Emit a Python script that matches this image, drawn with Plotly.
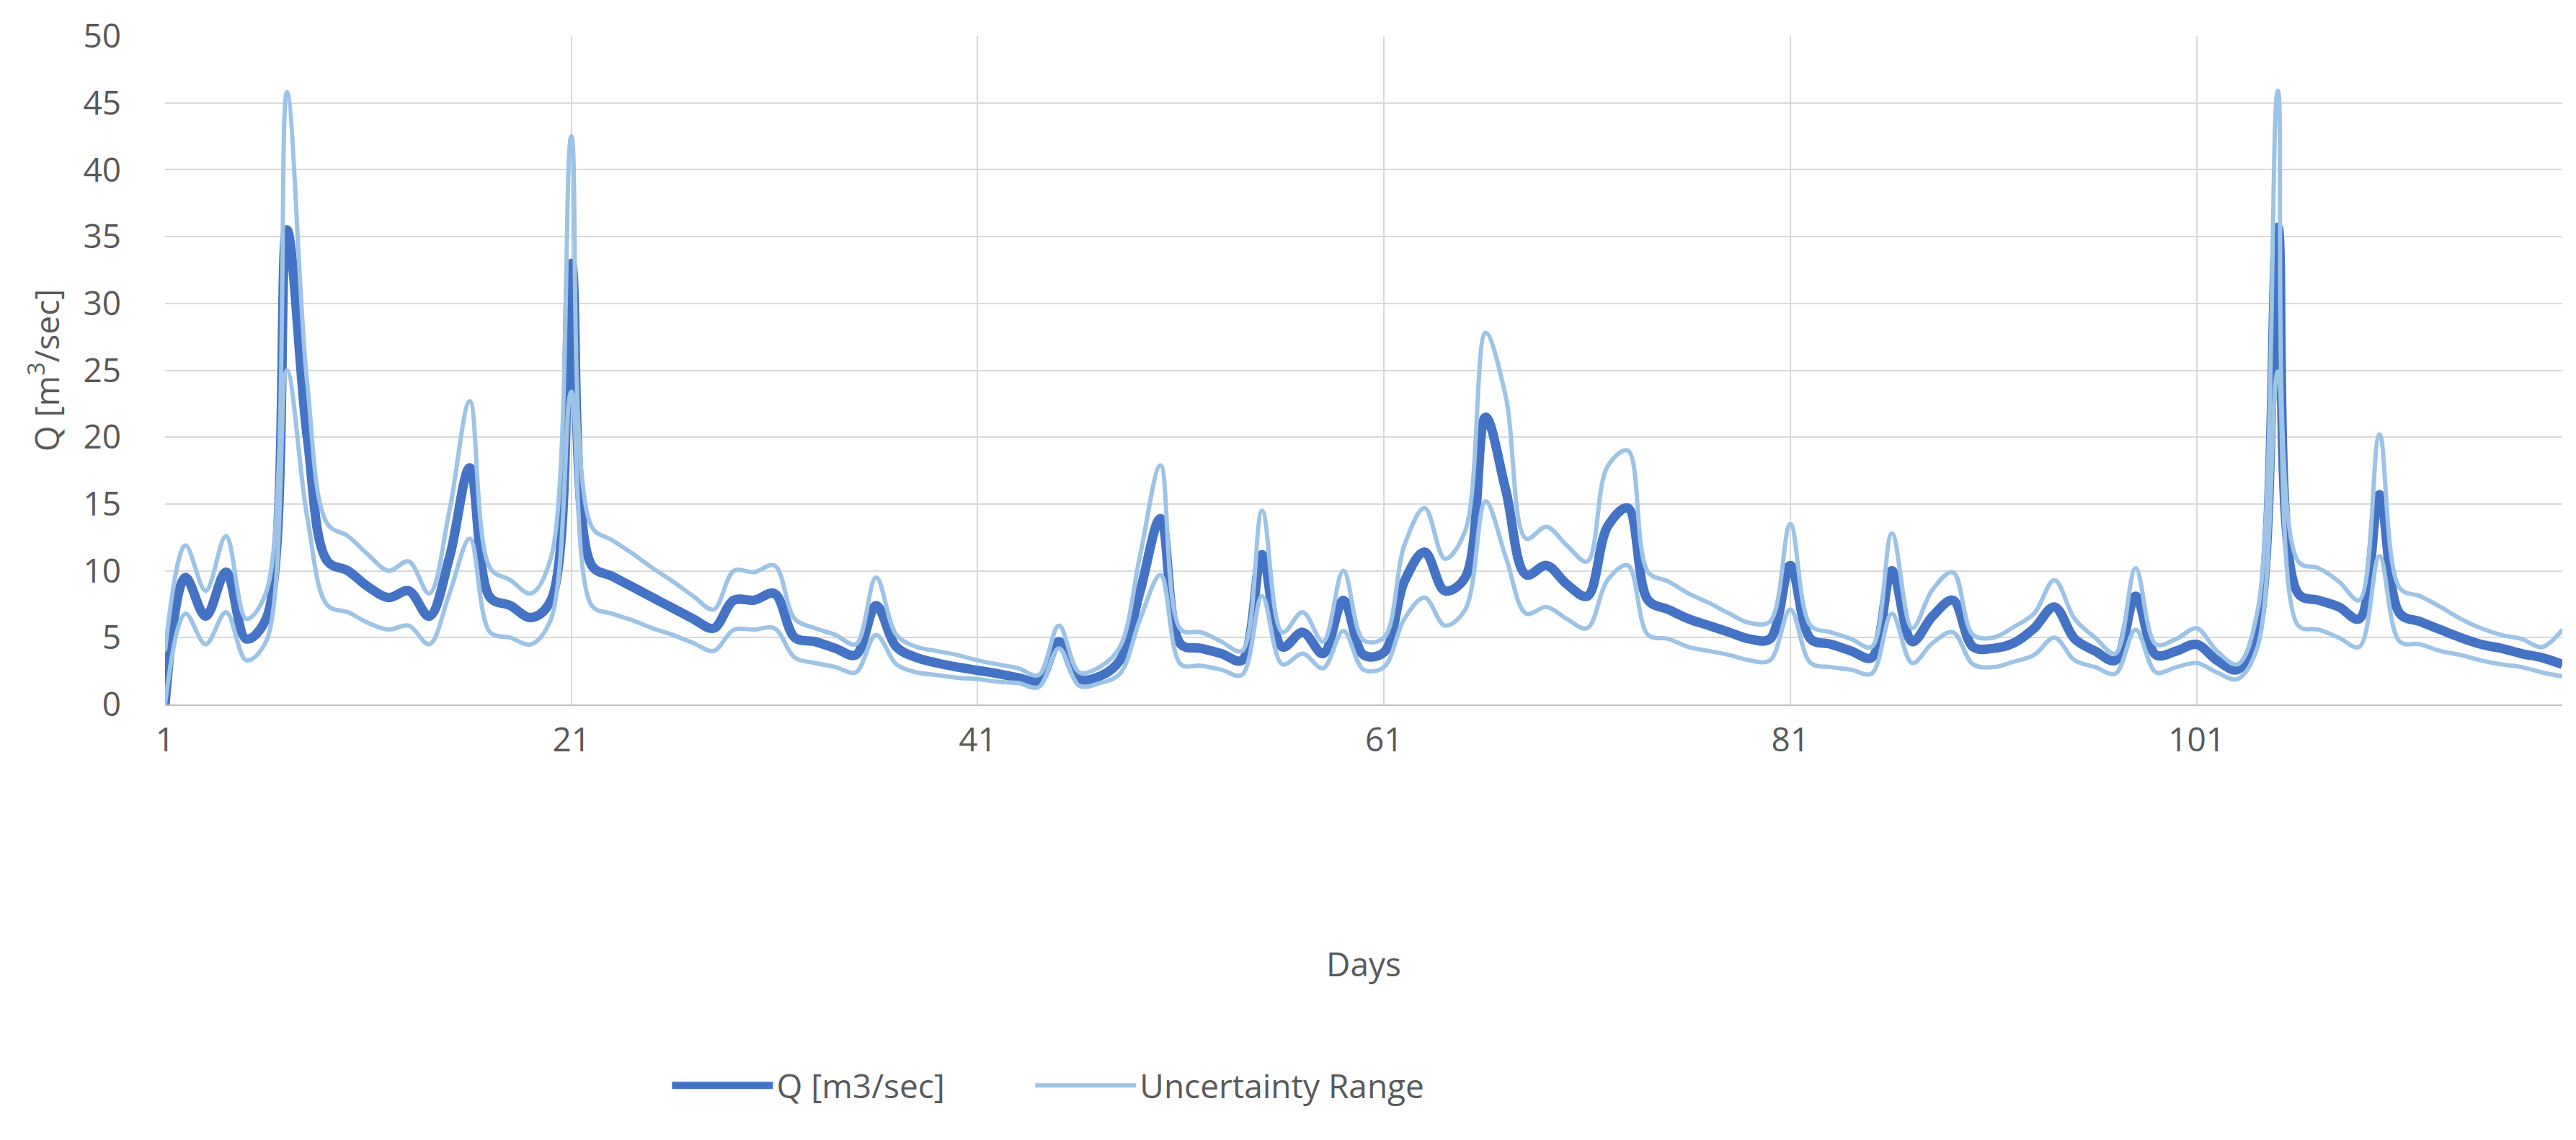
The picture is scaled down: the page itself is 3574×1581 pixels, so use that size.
import plotly.graph_objects as go

days = list(range(1, 120))

q_flow = [
    0.0, 9.5, 6.6, 9.9, 4.9, 6.5, 35.5, 20.0, 10.7, 10.0,
    8.8, 8.0, 8.5, 6.6, 11.0, 17.7, 8.0, 7.4, 6.5, 7.8,
    33.0, 10.4, 9.6, 8.8, 8.0, 7.2, 6.4, 5.7, 7.8, 7.8,
    8.3, 5.0, 4.7, 4.2, 3.7, 7.4, 4.3, 3.5, 3.1, 2.8,
    2.55, 2.3, 2.0, 1.75, 4.7, 1.9, 2.1, 3.3, 8.5, 13.9,
    4.5, 4.2, 3.8, 3.3, 11.2, 4.3, 5.4, 3.8, 7.8, 3.7,
    3.9, 9.2, 11.4, 8.5, 9.5, 21.5, 16.0, 9.7, 10.4, 9.0,
    8.1, 13.3, 14.7, 7.8, 7.1, 6.4, 5.9, 5.4, 4.9, 4.9,
    10.4, 4.9, 4.5, 4.0, 3.5, 10.0, 4.7, 6.6, 7.8, 4.3,
    4.2, 4.6, 5.7, 7.3, 4.9, 4.0, 3.3, 8.1, 3.7, 4.0,
    4.5, 3.3, 2.6, 5.5, 35.7, 8.3, 7.8, 7.3, 6.4, 15.7,
    6.8, 6.2, 5.6, 5.0, 4.5, 4.2, 3.8, 3.5, 3.0,
]

upper = [
    4.0, 11.9, 8.5, 12.6, 6.4, 8.5, 45.8, 24.0, 13.5, 12.6,
    11.2, 10.0, 10.7, 8.3, 14.5, 22.7, 10.2, 9.3, 8.3, 11.0,
    42.5, 13.3, 12.3, 11.3, 10.2, 9.2, 8.1, 7.1, 10.0, 9.9,
    10.4, 6.4, 5.7, 5.2, 4.5, 9.5, 5.2, 4.3, 4.0, 3.7,
    3.3, 3.0, 2.7, 2.2, 5.9, 2.4, 2.8, 4.3, 11.2, 17.9,
    5.6, 5.4, 4.7, 4.0, 14.5, 5.4, 6.9, 4.7, 10.0, 4.8,
    5.0, 11.9, 14.7, 10.9, 13.0, 27.8, 23.0, 12.4, 13.3, 11.9,
    10.7, 17.8, 19.0, 9.9, 9.2, 8.3, 7.6, 6.8, 6.1, 6.2,
    13.5, 5.9, 5.4, 4.9, 4.3, 12.8, 5.7, 8.6, 9.9, 5.2,
    5.0, 5.8, 6.8, 9.3, 6.4, 5.0, 3.8, 10.2, 4.5, 4.9,
    5.7, 4.0, 3.0, 7.0, 45.9, 10.7, 10.2, 9.2, 7.8, 20.2,
    8.7, 8.1, 7.3, 6.4, 5.7, 5.2, 4.9, 4.3, 5.6,
]

lower = [
    0.0, 6.8, 4.5, 6.9, 3.3, 4.8, 25.0, 14.0, 7.4, 6.9,
    6.1, 5.6, 5.9, 4.5, 8.3, 12.4, 5.4, 5.0, 4.5, 6.4,
    23.4, 7.4, 6.8, 6.3, 5.7, 5.2, 4.6, 4.0, 5.6, 5.6,
    5.7, 3.5, 3.1, 2.8, 2.4, 5.2, 3.0, 2.4, 2.2, 2.0,
    1.9, 1.7, 1.6, 1.3, 4.2, 1.4, 1.6, 2.3, 6.4, 9.7,
    3.0, 2.9, 2.6, 2.2, 8.1, 3.0, 3.8, 2.7, 5.5, 2.6,
    2.8, 6.4, 8.0, 5.9, 7.1, 15.2, 11.0, 6.8, 7.3, 6.4,
    5.7, 9.3, 10.4, 5.2, 4.9, 4.3, 4.0, 3.7, 3.3, 3.3,
    7.1, 3.1, 2.8, 2.6, 2.3, 6.8, 3.1, 4.6, 5.4, 3.0,
    2.8, 3.2, 3.7, 5.0, 3.3, 2.8, 2.3, 5.6, 2.4, 2.8,
    3.1, 2.4, 1.9, 4.3, 24.9, 5.9, 5.6, 5.0, 4.3, 11.1,
    4.7, 4.5, 4.0, 3.7, 3.3, 3.0, 2.8, 2.4, 2.1,
]

x_tick_values = [1, 21, 41, 61, 81, 101]

assert len(q_flow) == len(days) == len(upper) == len(lower)

FONT = "Open Sans"
TEXT = "#595959"
GRID = "#d9d9d9"
FS = 46

fig = go.Figure()
fig.add_trace(go.Scatter(
    x=days, y=q_flow, mode="lines", name="Q [m3/sec]",
    legend="legend",
    line=dict(color="#4472C4", width=13, shape="spline", smoothing=1.0),
))
fig.add_trace(go.Scatter(
    x=days, y=upper, mode="lines", name="Uncertainty Range",
    legend="legend2", legendgroup="unc",
    line=dict(color="#9DC3E6", width=6, shape="spline", smoothing=1.0),
))
fig.add_trace(go.Scatter(
    x=days, y=lower, mode="lines", name="Uncertainty Range",
    legend="legend2", legendgroup="unc", showlegend=False,
    line=dict(color="#9DC3E6", width=6, shape="spline", smoothing=1.0),
))

legend_common = dict(
    orientation="h", yanchor="middle", y=-0.57, xanchor="left",
    font=dict(family=FONT, size=FS, color=TEXT),
    itemwidth=140, bgcolor="rgba(0,0,0,0)",
)

fig.update_layout(
    template="none",
    width=3574, height=1581,
    margin=dict(l=221, r=27, t=42, b=612, pad=0),
    paper_bgcolor="white", plot_bgcolor="white",
    font=dict(family=FONT, size=FS, color=TEXT),
    showlegend=True,
    legend=dict(legend_common, x=0.210),
    legend2=dict(legend_common, x=0.3615),
    xaxis=dict(
        range=[1, 119], tickmode="array", tickvals=x_tick_values,
        ticktext=[str(v) for v in x_tick_values],
        showgrid=True, gridcolor=GRID, gridwidth=2,
        showline=True, linecolor="#bfbfbf", linewidth=2,
        zeroline=False, ticks="", ticklabelstandoff=8,
        tickfont=dict(family=FONT, size=FS, color=TEXT),
        automargin=False,
        title=dict(text="Days", font=dict(family=FONT, size=FS, color=TEXT), standoff=268),
    ),
    yaxis=dict(
        range=[0, 50], tickmode="linear", tick0=0, dtick=5,
        showgrid=True, gridcolor=GRID, gridwidth=2,
        showline=False, zeroline=False, ticks="", ticklabelstandoff=60,
        tickfont=dict(family=FONT, size=FS, color=TEXT),
        automargin=False,
        title=dict(text="Q [m<sup>3</sup>/sec]", font=dict(family=FONT, size=46, color=TEXT), standoff=18),
    ),
)

fig.write_html("out.html")
